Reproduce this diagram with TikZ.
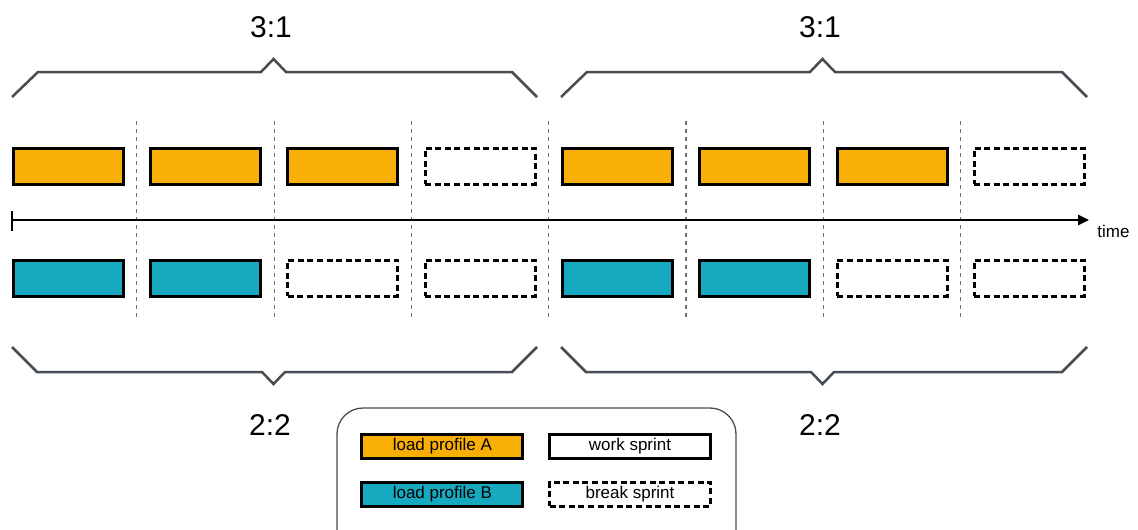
\documentclass[tikz,border=0pt]{standalone}
\usepackage{fontspec}
\setmainfont{Liberation Sans}
\usetikzlibrary{arrows.meta}
\definecolor{profA}{HTML}{F9AF05}
\definecolor{profB}{HTML}{17A9BF}
\definecolor{bracegray}{HTML}{474D54}
\definecolor{sepgray}{HTML}{6E6E6E}
\tikzset{
  sprint/.style={draw=black, line width=3pt, minimum width=110pt, minimum height=36pt, inner sep=0pt},
  workA/.style={sprint, fill=profA},
  workB/.style={sprint, fill=profB},
  pause/.style={sprint, fill=white, dash pattern=on 6pt off 3.6pt},
  separator/.style={draw=sepgray, line width=1.2pt, dash pattern=on 4pt off 4pt},
  bracket/.style={draw=bracegray, line width=2.5pt, line join=miter},
  ratio/.style={font=\fontsize{30}{36}\selectfont, inner sep=0pt},
  legbox/.style={draw=black, line width=3pt, minimum width=161pt, minimum height=24pt, inner sep=0pt, font=\fontsize{17}{20}\selectfont},
  axis/.style={draw=black, line width=2.6pt},
}
\begin{document}
\begin{tikzpicture}[x=1pt, y=-1pt]
  \clip (0,0) rectangle (1138,530);
  \fill[white] (0,0) rectangle (1138,530);

  % separators between sprint slots
  \foreach \i in {0,...,6} {
    \coordinate (st\i) at ({68.2+137.3*(\i+0.5)},121);
    \coordinate (sb\i) at ({68.2+137.3*(\i+0.5)},320);
    \draw[separator] (st\i) -- (sb\i);
  }

  % profile A: 3 work sprints, 1 break sprint, twice
  \foreach \i/\s in {0/workA,1/workA,2/workA,3/pause,4/workA,5/workA,6/workA,7/pause}
    \node[\s] (a\i) at ({68.2+137.3*\i},166) {};

  % profile B: 2 work sprints, 2 break sprints, twice
  \foreach \i/\s in {0/workB,1/workB,2/pause,3/pause,4/workB,5/workB,6/pause,7/pause}
    \node[\s] (b\i) at ({68.2+137.3*\i},278) {};

  % time axis
  \coordinate (t0) at (12,220);
  \coordinate (t1) at (1089,220);
  \coordinate (tk0) at (12,211);
  \coordinate (tk1) at (12,231);
  \draw[axis, -{Triangle[length=11pt,width=10pt]}] (t0) -- (t1);
  \draw[axis] (tk0) -- (tk1);
  \node[font=\fontsize{17}{20}\selectfont, inner sep=0pt] (time) at (1113.5,231.5) {time};

  % upper brackets
  \draw[bracket] (12,97) -- (38,72) -- (261,72) -- (273.5,59) -- (286,72) -- (512,72) -- (537,97);
  \draw[bracket] (561,97) -- (587,72) -- (810,72) -- (822.5,59) -- (835,72) -- (1062,72) -- (1087,97);
  \node[ratio] (r1) at (271,27.5) {3:1};
  \node[ratio] (r2) at (820,27.5) {3:1};

  % lower brackets
  \draw[bracket] (12,347) -- (37,372) -- (262,372) -- (273.5,384) -- (285,372) -- (512,372) -- (537,347);
  \draw[bracket] (561,347) -- (586,372) -- (811,372) -- (822.5,384) -- (834,372) -- (1062,372) -- (1087,347);
  \node[ratio] (r3) at (270,425.5) {2:2};
  \node[ratio] (r4) at (820,425.5) {2:2};

  % legend
  \draw[draw=bracegray, line width=1.3pt, rounded corners=26pt] (337,408) rectangle (736,560);
  \node[legbox, fill=profA] (la) at (442.4,446) {load profile A};
  \node[legbox, fill=white] (lw) at (630,446) {work sprint};
  \node[legbox, fill=profB] (lb) at (442.4,494) {load profile B};
  \node[legbox, fill=white, dash pattern=on 6pt off 3.6pt] (lp) at (630,494) {break sprint};
\end{tikzpicture}
\end{document}
